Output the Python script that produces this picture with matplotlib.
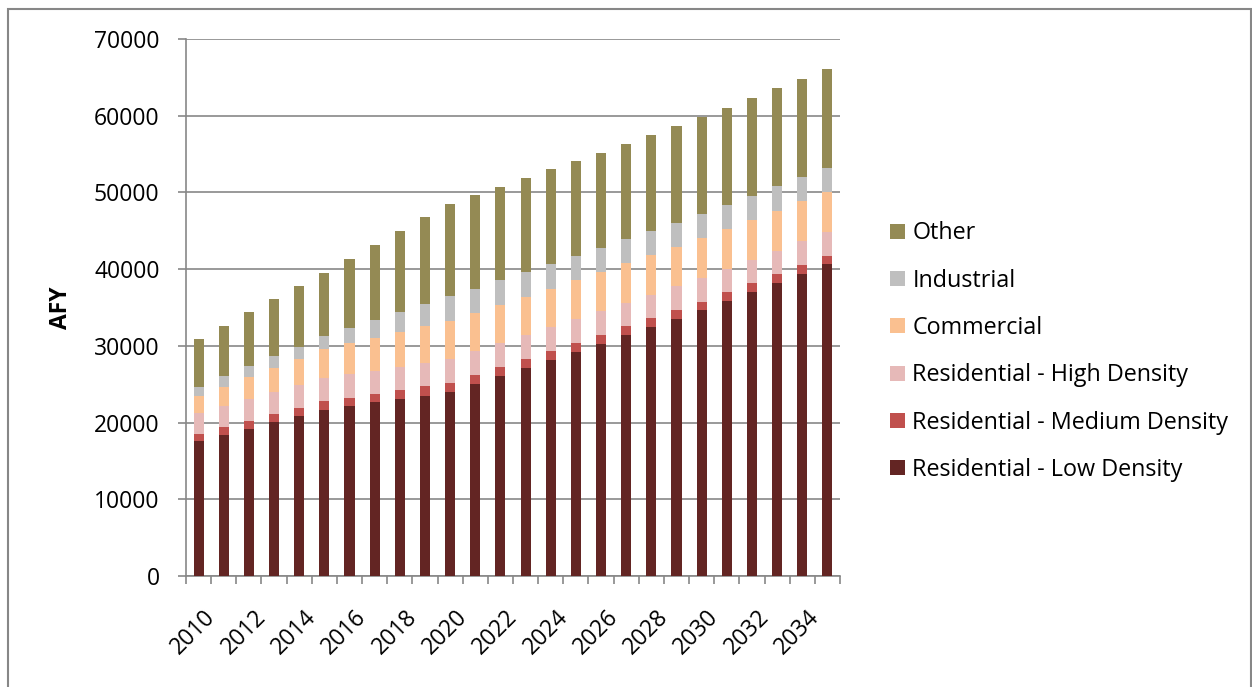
import matplotlib
matplotlib.use("Agg")
import matplotlib.pyplot as plt
import matplotlib.transforms as mtransforms
import numpy as np
from matplotlib.patches import Rectangle

years = list(range(2010, 2036))
low = [17600, 18430, 19210, 20080, 20860, 21650, 22170, 22650, 23080, 23510, 24030, 25080, 26120,
       27160, 28210, 29250, 30290, 31470, 32510, 33550, 34690, 35860, 37070, 38250, 39420, 40650]
medium = [920, 1040, 1040, 1050, 1090, 1170, 1080, 1080, 1180, 1270, 1180, 1170, 1170,
          1180, 1170, 1170, 1180, 1170, 1170, 1180, 1080, 1130, 1140, 1170, 1140, 1080]
high = [2700, 2660, 2790, 2820, 2920, 3040, 3050, 3040, 2990, 2950, 3050, 3050, 3050,
        3040, 3050, 3050, 3050, 2960, 2960, 3050, 3050, 3040, 2960, 3000, 3080, 3090]
commercial = [2210, 2520, 2870, 3210, 3430, 3740, 4040, 4310, 4570, 4830, 4990, 5000, 5040,
              5040, 5030, 5090, 5160, 5180, 5180, 5120, 5220, 5220, 5250, 5220, 5220, 5210]
industrial = [1260, 1390, 1470, 1490, 1520, 1700, 2000, 2300, 2610, 2870, 3220, 3160, 3220,
              3220, 3220, 3170, 3090, 3170, 3170, 3170, 3160, 3130, 3170, 3180, 3170, 3170]
other = [6260, 6560, 6980, 7470, 8000, 8210, 9000, 9740, 10520, 11340, 12080, 12180, 12170,
         12220, 12310, 12340, 12430, 12380, 12520, 12570, 12610, 12690, 12700, 12780, 12820, 12910]

series_names = ["Residential - Low Density", "Residential - Medium Density",
                "Residential - High Density", "Commercial", "Industrial", "Other"]
series_vals = [low, medium, high, commercial, industrial, other]
colors = ["#632523", "#C0504D", "#E6B9B8", "#FAC090", "#BFBFBF", "#948A54"]
yticks = [0, 10000, 20000, 30000, 40000, 50000, 60000, 70000]

plt.rcParams['font.family'] = ['Open Sans', 'DejaVu Sans']

W, H = 1252, 687
fig = plt.figure(figsize=(W / 100, H / 100), dpi=100)
ax = fig.add_axes([186 / W, (H - 576) / H, 654 / W, 537 / H])

x = np.arange(len(years))
bottom = np.zeros(len(years))
handles = []
for name, vals, c in zip(series_names, series_vals, colors):
    b = ax.bar(x, vals, width=0.4, bottom=bottom, color=c, label=name, zorder=3)
    handles.append(b)
    bottom += np.array(vals)

ax.set_xlim(-0.5, len(years) - 0.5)
ax.set_ylim(0, 70000)
ax.set_yticks(yticks)
ax.set_yticklabels([str(v) for v in yticks], fontsize=16.5)
ax.yaxis.grid(True, color="#878787", linewidth=1.2, zorder=0)
ax.set_axisbelow(True)

for s in ["top", "right"]:
    ax.spines[s].set_visible(False)
for s in ["left", "bottom"]:
    ax.spines[s].set_color("#878787")
    ax.spines[s].set_linewidth(1.2)

ax.tick_params(axis="y", length=6, width=1.2, color="#878787", pad=13)
# x ticks at category boundaries
ax.set_xticks(np.arange(-0.5, len(years), 1.0))
ax.set_xticklabels([])
ax.tick_params(axis="x", length=6, width=1.2, color="#878787")
ax.set_xticks(x[::2], minor=True)
ax.set_xticklabels([str(y) for y in years[::2]], minor=True, rotation=45,
                   ha="right", va="top", rotation_mode="anchor", fontsize=16.5)
ax.tick_params(axis="x", which="minor", length=0, pad=21)
offset = mtransforms.ScaledTranslation(5 / 100, 0, fig.dpi_scale_trans)
for lbl in ax.get_xticklabels(minor=True):
    lbl.set_transform(lbl.get_transform() + offset)

ax.set_ylabel("AFY", fontsize=16.5, fontweight="bold", labelpad=15)

leg = fig.legend(handles[::-1], series_names[::-1], loc="upper left",
                 bbox_to_anchor=(881 / W, 1 - 212 / H), frameon=False, fontsize=16.8,
                 handlelength=0.62, handleheight=0.62, handletextpad=0.33,
                 labelspacing=1.0, borderaxespad=0)

fig.patches.append(Rectangle((8 / W, -0.01), (W - 9) / W, (H - 9) / H + 0.01,
                             transform=fig.transFigure, fill=False,
                             edgecolor="#878787", linewidth=1.5))

fig.savefig("out.png", dpi=100)
